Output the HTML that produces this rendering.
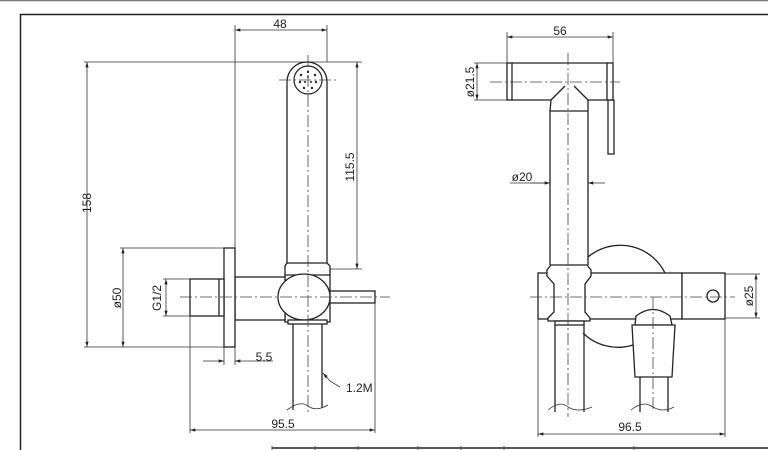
<!DOCTYPE html>
<html><head><meta charset="utf-8"><style>
html,body{margin:0;padding:0;background:#fff;}
svg{display:block;}
text{font-family:"Liberation Sans",sans-serif;font-size:12px;fill:#222;}
</style></head><body>
<svg width="768" height="450" viewBox="0 0 768 450" xmlns="http://www.w3.org/2000/svg">
<defs>
<marker id="a" viewBox="0 0 10 6" refX="10" refY="3" markerWidth="8" markerHeight="4" orient="auto-start-reverse"><path d="M0,0L10,3L0,6z" fill="#222"/></marker>
</defs>
<!-- frame -->
<line x1="0" y1="0.5" x2="768" y2="0.5" stroke="#777" stroke-width="1.5"/>
<path d="M20.5,450V14.5H768" fill="none" stroke="#222" stroke-width="1.5"/>
<line x1="272" y1="448" x2="768" y2="448" stroke="#222" stroke-width="1.5"/>
<g stroke="#555" stroke-width="1"><line x1="272" y1="446" x2="272" y2="450"/><line x1="315" y1="446" x2="315" y2="450"/><line x1="358" y1="446" x2="358" y2="450"/><line x1="418" y1="446" x2="418" y2="450"/><line x1="461" y1="446" x2="461" y2="450"/><line x1="504" y1="446" x2="504" y2="450"/><line x1="634" y1="446" x2="634" y2="450"/></g>

<!-- LEFT VIEW -->
<g fill="none" stroke="#333" stroke-width="0.8">
<line x1="235" y1="25" x2="235" y2="248"/>
<line x1="327" y1="25" x2="327" y2="62"/>
<line x1="84" y1="62" x2="362" y2="62"/>
<line x1="327" y1="269" x2="362" y2="269"/>
<line x1="84" y1="347" x2="224" y2="347"/>
<line x1="120" y1="248" x2="224" y2="248"/>
<line x1="163" y1="279" x2="190" y2="279"/>
<line x1="163" y1="316" x2="190" y2="316"/>
<line x1="224" y1="347" x2="224" y2="365"/>
<line x1="235" y1="347" x2="235" y2="365"/>
<line x1="190" y1="316" x2="190" y2="433"/>
<line x1="375" y1="303" x2="375" y2="433"/>
<line x1="235" y1="30" x2="327" y2="30" marker-start="url(#a)" marker-end="url(#a)"/>
<line x1="87" y1="62" x2="87" y2="347" marker-start="url(#a)" marker-end="url(#a)"/>
<line x1="357" y1="62" x2="357" y2="269" marker-start="url(#a)" marker-end="url(#a)"/>
<line x1="123" y1="248" x2="123" y2="347" marker-start="url(#a)" marker-end="url(#a)"/>
<line x1="166" y1="279" x2="166" y2="316" marker-start="url(#a)" marker-end="url(#a)"/>
<line x1="203" y1="361" x2="224" y2="361" marker-end="url(#a)"/>
<line x1="273" y1="361" x2="235" y2="361" marker-end="url(#a)"/>
<line x1="190" y1="430" x2="375" y2="430" marker-start="url(#a)" marker-end="url(#a)"/>
<polyline points="340,387 330,381 323,373" marker-end="url(#a)"/>
</g>
<g fill="#fff" stroke="#222" stroke-width="1.3">
<path d="M287,263V82A20,20 0 0 1 327,82V263"/>
<path d="M287,263L285,266V322H330V266L327,263Z"/>
<line x1="285" y1="275" x2="330" y2="275"/>
<rect x="235" y="277" width="50" height="43"/>
<rect x="224" y="248" width="11" height="99"/>
<rect x="190" y="279" width="34" height="37"/>
<line x1="219" y1="279" x2="219" y2="316"/>
<rect x="330" y="291" width="45" height="12"/>
<ellipse cx="304" cy="297" rx="26" ry="23"/>
<rect x="288" y="320" width="39" height="4"/>
<line x1="293" y1="324" x2="293" y2="410"/>
<line x1="322" y1="324" x2="322" y2="408"/>
</g>
<path d="M287,410 Q300,400 308,406 Q316,412 328,405" fill="none" stroke="#333" stroke-width="0.8"/>
<circle cx="308" cy="80" r="14" fill="none" stroke="#222" stroke-width="1.2"/>
<g fill="#222">
<circle cx="308" cy="72" r="1.2"/><circle cx="315" cy="75" r="1.2"/><circle cx="316" cy="82" r="1.2"/><circle cx="312" cy="88" r="1.2"/><circle cx="304" cy="88" r="1.2"/><circle cx="300" cy="82" r="1.2"/><circle cx="301" cy="75" r="1.2"/>
<circle cx="308" cy="77" r="1"/><circle cx="311" cy="82" r="1"/><circle cx="305" cy="82" r="1"/>
</g>
<text x="280" y="28" text-anchor="middle">48</text>
<text transform="translate(91,203) rotate(-90)" text-anchor="middle">158</text>
<text transform="translate(354,167) rotate(-90)" text-anchor="middle">115.5</text>
<text transform="translate(121,298) rotate(-90)" text-anchor="middle">ø50</text>
<text transform="translate(161,298) rotate(-90)" text-anchor="middle">G1/2</text>
<text x="264" y="361" text-anchor="middle">5.5</text>
<text x="346" y="392">1.2M</text>
<text x="283" y="428" text-anchor="middle">95.5</text>

<!-- RIGHT VIEW -->
<g fill="none" stroke="#333" stroke-width="0.8">
<line x1="507" y1="32" x2="507" y2="63"/>
<line x1="613" y1="32" x2="613" y2="63"/>
<line x1="507" y1="37" x2="613" y2="37" marker-start="url(#a)" marker-end="url(#a)"/>
<line x1="474" y1="63" x2="507" y2="63"/>
<line x1="474" y1="100" x2="507" y2="100"/>
<line x1="477" y1="63" x2="477" y2="100" marker-start="url(#a)" marker-end="url(#a)"/>
<line x1="510" y1="183" x2="550" y2="183"/>
<line x1="530" y1="183" x2="550" y2="183" marker-end="url(#a)"/>
<line x1="605" y1="183" x2="588" y2="183" marker-end="url(#a)"/>
<line x1="725" y1="274" x2="760" y2="274"/>
<line x1="725" y1="318" x2="760" y2="318"/>
<line x1="756" y1="274" x2="756" y2="318" marker-start="url(#a)" marker-end="url(#a)"/>
<line x1="538" y1="318" x2="538" y2="437"/>
<line x1="725" y1="318" x2="725" y2="437"/>
<line x1="538" y1="434" x2="725" y2="434" marker-start="url(#a)" marker-end="url(#a)"/>
</g>
<g fill="#fff" stroke="#222" stroke-width="1.3">
<path d="M588,257 A50,50 0 0 1 665,273" fill="none"/>
<path d="M583,333 A50,50 0 0 0 633,345" fill="none"/>
<rect x="608" y="100" width="6" height="54"/>
<path d="M512,63H607M512,100H551M588,100H607" fill="none"/>
<rect x="507" y="63" width="5" height="37"/>
<rect x="607" y="63" width="6" height="37"/>
<path d="M550,265V111L551,100M588,265V111L588,100" fill="none"/>
<line x1="550" y1="111" x2="588" y2="111"/>
<path d="M551,100L565,86M588,100L574,86" fill="none"/>
<rect x="538" y="273" width="144" height="46"/>
<rect x="682" y="273" width="43" height="46"/>
<circle cx="713" cy="296" r="6"/>
<path d="M551,265H587L591,270V276L585,284V312L590,318V321H548V318L554,312V284L547,276V270Z"/>
<rect x="555" y="321" width="29" height="4"/>
<line x1="555" y1="325" x2="555" y2="412"/>
<line x1="584" y1="325" x2="584" y2="412"/>
<path d="M635,325 L636,316 Q653,303 670,316 L672,325Z"/>
<path d="M632,325H675L672,377H635Z"/>
<line x1="640" y1="377" x2="640" y2="412"/>
<line x1="668" y1="377" x2="668" y2="412"/>
</g>
<path d="M548,410 Q560,400 568,407 Q578,413 592,407 M631,410 Q643,400 653,407 Q663,413 674,407" fill="none" stroke="#333" stroke-width="0.8"/>
<text x="560" y="35" text-anchor="middle">56</text>
<text transform="translate(474,82) rotate(-90)" text-anchor="middle">ø21.5</text>
<text x="522" y="181" text-anchor="middle">ø20</text>
<text transform="translate(753,296) rotate(-90)" text-anchor="middle">ø25</text>
<text x="630" y="431" text-anchor="middle">96.5</text>

<!-- centerlines on top -->
<g fill="none" stroke="#444" stroke-width="0.8" stroke-dasharray="12,3,2,3">
<line x1="180" y1="297" x2="390" y2="297"/>
<line x1="308" y1="55" x2="308" y2="415"/>
<line x1="279" y1="80" x2="337" y2="80"/>
<line x1="490" y1="82" x2="620" y2="82"/>
<line x1="568" y1="53" x2="568" y2="417"/>
<line x1="530" y1="297" x2="735" y2="297"/>
<line x1="653" y1="297" x2="653" y2="412"/>
</g>
</svg>
</body></html>
